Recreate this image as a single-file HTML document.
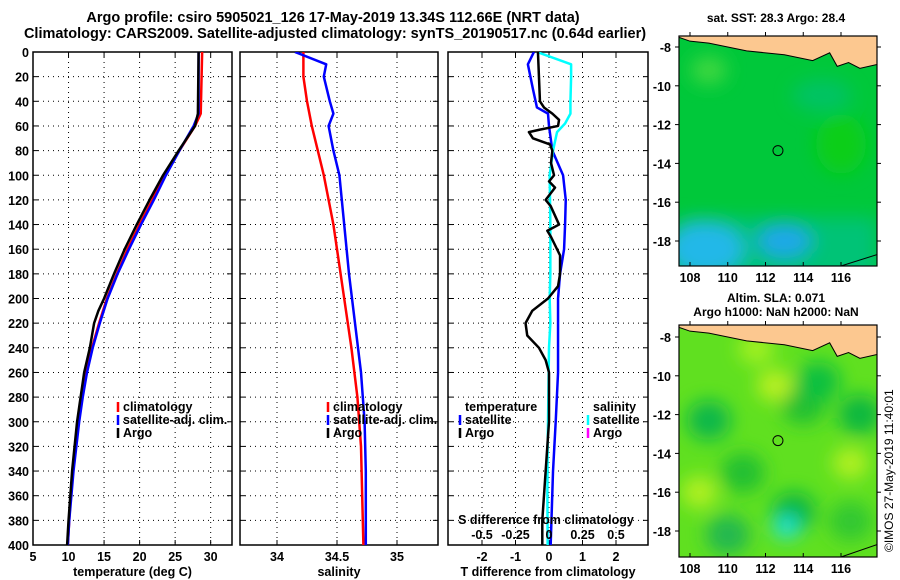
<!DOCTYPE html>
<html><head><meta charset="utf-8">
<style>
body{margin:0;background:#fff;}
svg{display:block;font-family:"Liberation Sans",sans-serif;font-weight:bold;}
</style></head>
<body>
<svg id="c" width="900" height="580" viewBox="0 0 900 580" xmlns="http://www.w3.org/2000/svg">
<defs>
<clipPath id="cp1"><rect x="33" y="52" width="199" height="493"/></clipPath>
<clipPath id="cp2"><rect x="240" y="52" width="198" height="493"/></clipPath>
<clipPath id="cp3"><rect x="448" y="52" width="200" height="493"/></clipPath>
<clipPath id="cm1"><rect x="679" y="36" width="198" height="230"/></clipPath>
<clipPath id="cm2"><rect x="679" y="325" width="198" height="232"/></clipPath>
<filter id="bl"><feGaussianBlur stdDeviation="9"/></filter>
</defs>
<text x="333" y="22" text-anchor="middle" font-size="14.5">Argo profile: csiro 5905021_126 17-May-2019 13.34S 112.66E (NRT data)</text>
<text x="335" y="38" text-anchor="middle" font-size="14.5">Climatology: CARS2009. Satellite-adjusted climatology: synTS_20190517.nc (0.64d earlier)</text>
<text x="776" y="22" text-anchor="middle" font-size="12">sat. SST: 28.3 Argo: 28.4</text>
<text x="776" y="302" text-anchor="middle" font-size="12">Altim. SLA: 0.071</text>
<text x="776" y="316" text-anchor="middle" font-size="12">Argo h1000: NaN h2000: NaN</text>
<text transform="translate(893,552) rotate(-90)" font-size="12" font-weight="normal">©IMOS 27-May-2019 11:40:01</text>
<g id="g"></g>
</svg>
<script>
// ---- data ----
const tDepth = [0,50,60,80,100,120,140,160,180,200,220,240,260,280,300,320,340,360,380,400];
const tClim  = [28.8,28.6,27.8,25.6,23.5,21.8,20,18.3,16.8,15.4,14.3,13.3,12.5,11.9,11.4,11,10.6,10.3,10.1,9.9];
const tSat   = [28.3,28.3,27.6,25.6,23.7,22,20.2,18.5,16.9,15.5,14.4,13.4,12.6,12,11.5,11.1,10.7,10.4,10.1,9.9];
const argoDepth = [0,50,60,80,100,120,140,160,180,200,210,220,240,260,280,300,340,380,400];
const tArgo  = [28.3,28.2,27.8,25.5,23.3,21.4,19.6,17.9,16.4,15.0,14.2,13.6,13.0,12.2,11.7,11.2,10.5,10.0,9.8];

const sDepth = [0,10,20,40,60,80,100,140,180,200,240,280,320,360,400];
const sClim  = [34.22,34.22,34.22,34.25,34.29,34.34,34.39,34.47,34.53,34.56,34.62,34.67,34.7,34.71,34.72];
const sSatDepth = [0,10,20,40,50,60,80,100,140,180,220,260,300,340,400];
const sSat   = [34.15,34.41,34.39,34.44,34.47,34.43,34.47,34.52,34.56,34.6,34.65,34.7,34.73,34.74,34.74];

const dTDepth = [0,10,30,45,50,60,80,100,120,140,160,180,200,240,260,300,340,400];
const dTSat   = [-0.45,-0.63,-0.48,-0.36,-0.03,0,0.1,0.42,0.5,0.48,0.45,0.33,0.27,0.27,0.27,0.2,0.12,0.05];
const dSDepth = [0,10,20,40,50,58,65,80,100,140,180,200,220,240,280,320,360,400];
const dSSat   = [-0.09,0.165,0.165,0.16,0.16,0.12,0.06,0.03,0.005,0.01,0.01,0.005,0.01,0.0,-0.005,-0.01,-0.012,-0.01];
const dArgoDepth = [0,20,40,45,50,55,60,63,65,70,75,80,90,100,105,110,120,125,140,145,150,165,180,190,200,210,220,230,240,250,260,300,320,340,360,380,400];
const dTArgo  = [-0.33,-0.3,-0.27,-0.15,0.1,0.3,0.27,-0.27,-0.6,-0.48,0.03,0.1,0.06,0.15,0,0.18,-0.1,0.05,0.3,-0.05,0.06,0.33,0.33,0.27,-0.03,-0.5,-0.7,-0.65,-0.3,-0.1,0,0,-0.05,-0.1,-0.15,-0.2,-0.2];

const depthTicks = [0,20,40,60,80,100,120,140,160,180,200,220,240,260,280,300,320,340,360,380,400];
const tTicks = [5,10,15,20,25,30];
const sTicks = [34,34.5,35];
const dTicks = [-2,-1,0,1,2];
const dSTicks = [-0.5,-0.25,0,0.25,0.5];
const lonTicks = [108,110,112,114,116];
const latTicks = [-8,-10,-12,-14,-16,-18];
const argoLon = 112.66, argoLat = -13.34;

// ---- helpers ----
const NS="http://www.w3.org/2000/svg";
const G=document.getElementById('g');
const FS=12.5;
function mk(tag,at,par){const e=document.createElementNS(NS,tag);for(const k in at)e.setAttribute(k,at[k]);(par||G).appendChild(e);return e;}
const Y0=52,Y1=545;
const yD=d=>Y0+(d/400)*(Y1-Y0);
const x1=v=>33+(v-5)/(33-5)*199;
const x2=v=>277+(v-34)*120;
const x3=v=>549+v*33.5;
const x3s=v=>x3(v*4);

function panel(name,L,R,xf,ticks,fmt,xlabel,cp,showY){
  const fr=mk('rect',{x:L,y:Y0,width:R-L,height:Y1-Y0,fill:'#fff',stroke:'#000','stroke-width':1.5});
  
  
  depthTicks.forEach(d=>{
    const y=yD(d);
    if(d>0&&d<400){const l=mk('line',{x1:L,x2:R,y1:y,y2:y,stroke:'#000','stroke-dasharray':'1,4'});
    }
    mk('line',{x1:L,x2:L+5,y1:y,y2:y,stroke:'#000'});mk('line',{x1:R-5,x2:R,y1:y,y2:y,stroke:'#000'});
    if(showY){const t=mk('text',{x:L-4,y:y+5,'text-anchor':'end','font-size':FS});t.textContent=d;
    }
  });
  ticks.forEach(v=>{
    const x=xf(v);
    const l=mk('line',{x1:x,x2:x,y1:Y0,y2:Y1,stroke:'#000','stroke-dasharray':'1,4'});
    
    mk('line',{x1:x,x2:x,y1:Y1-5,y2:Y1,stroke:'#000'});mk('line',{x1:x,x2:x,y1:Y0,y2:Y0+5,stroke:'#000'});
    const t=mk('text',{x:x,y:561,'text-anchor':'middle','font-size':FS});t.textContent=fmt(v);
    
  });
  const xl=mk('text',{x:(L+R)/2,y:576,'text-anchor':'middle','font-size':FS});xl.textContent=xlabel;
  
}
function line(name,xs,ds,xf,col,cp,w){
  const p=mk('polyline',{points:xs.map((v,i)=>xf(v)+','+yD(ds[i])).join(' '),fill:'none',stroke:col,'stroke-width':w||2.5,'clip-path':'url(#'+cp+')','stroke-linejoin':'round'});
  
  
}
function legend(items,x,y,nm){
  items.forEach((it,i)=>{
    const yy=y+i*13;
    if(it[1]){mk('line',{x1:x,x2:x,y1:yy-9,y2:yy+1,stroke:it[1],'stroke-width':2.5});}
    const t=mk('text',{x:x+5,y:yy,'font-size':FS});t.textContent=it[0];
    
  });
}

// panel 1 temperature
panel('temperature-panel',33,232,x1,tTicks,v=>v,'temperature (deg C)','cp1',true);
line('temp-climatology-line',tClim,tDepth,x1,'#f00','cp1');
line('temp-satellite-line',tSat,tDepth,x1,'#00f','cp1');
line('temp-argo-line',tArgo,argoDepth,x1,'#000','cp1');
legend([['climatology','#f00'],['satellite-adj. clim.','#00f'],['Argo','#000']],118,411,'temp');

// panel 2 salinity
panel('salinity-panel',240,438,x2,sTicks,v=>v,'salinity','cp2',false);
line('sal-climatology-line',sClim,sDepth,x2,'#f00','cp2');
line('sal-satellite-line',sSat,sSatDepth,x2,'#00f','cp2');
legend([['climatology','#f00'],['satellite-adj. clim.','#00f'],['Argo','#000']],328,411,'sal');

// panel 3 differences
panel('difference-panel',448,648,x3,dTicks,v=>v,'T difference from climatology','cp3',false);
line('dT-satellite-line',dTSat,dTDepth,x3,'#00f','cp3');
line('dS-satellite-line',dSSat,dSDepth,x3s,'#0ff','cp3');
line('dT-argo-line',dTArgo,dArgoDepth,x3,'#000','cp3');
legend([['temperature',null],['satellite','#00f'],['Argo','#000']],460,411,'diff-t');
legend([['salinity',null],['satellite','#0ff'],['Argo','#f0f']],588,411,'diff-s');
{const t=mk('text',{x:546,y:524,'text-anchor':'middle','font-size':FS});t.textContent='S difference from climatology';
}
dSTicks.forEach(v=>{const t=mk('text',{x:x3s(v),y:539,'text-anchor':'middle','font-size':FS});t.textContent=v;
});

// maps
function map(name,top,bot,latY8,latY18,cp,kind){
  const L=679,R=877;
  const lx=v=>690+(v-108)*(841-690)/8;
  const ly=v=>latY8+(-8-v)*(latY18-latY8)/10;
  const g=mk('g',{'clip-path':'url(#'+cp+')'});
  
  if(kind==='sst'){
    mk('rect',{x:L,y:top,width:R-L,height:bot-top,fill:'#00c83a'},g);
    const b=mk('g',{filter:'url(#bl)'},g);
    mk('rect',{x:L,y:ly(-16.8),width:R-L,height:bot,fill:'#00c090',opacity:0.7},b);
    mk('ellipse',{cx:lx(108.8),cy:ly(-18.4),rx:40,ry:28,fill:'#22b8e8'},b);
    mk('ellipse',{cx:lx(113),cy:ly(-18),rx:28,ry:18,fill:'#1aa8e8'},b);
    mk('ellipse',{cx:lx(109),cy:ly(-9.2),rx:18,ry:14,fill:'#40d840'},b);
    mk('ellipse',{cx:lx(115),cy:ly(-10.5),rx:30,ry:16,fill:'#00c080',opacity:0.6},b);
    mk('ellipse',{cx:lx(116),cy:ly(-13),rx:25,ry:30,fill:'#10d010',opacity:0.8},b);
    mk('polygon',{points:`${lx(112.8)},${top} ${R},${top} ${R},${ly(-8.8)} ${lx(115)},${ly(-8.2)} ${lx(112.8)},${ly(-7.7)}`,fill:'#c8f020'},g);
  } else {
    mk('rect',{x:L,y:top,width:R-L,height:bot-top,fill:'#60e020'},g);
    const b=mk('g',{filter:'url(#bl)'},g);
    [[109,-12.3,'#10b848'],[110.8,-15,'#20c030'],[114,-11.5,'#20c030'],[114.8,-10.3,'#10c040'],[117,-12,'#10b840'],[110,-18.2,'#20b850'],[113.5,-17,'#10b840'],[116.5,-17.5,'#30c830']].forEach(c=>mk('ellipse',{cx:lx(c[0]),cy:ly(c[1]),rx:22,ry:20,fill:c[2]},b));
    [[112.5,-10.5,'#b8f020'],[108.5,-16,'#b0f020'],[116.5,-14.5,'#b0f020'],[111.5,-8.6,'#a0f020']].forEach(c=>mk('ellipse',{cx:lx(c[0]),cy:ly(c[1]),rx:18,ry:16,fill:c[2]},b));
    mk('ellipse',{cx:lx(113.1),cy:ly(-17.8),rx:14,ry:12,fill:'#20e0d0'},b);
  }
  const land=mk('polygon',{points:`${L},${top} ${R},${top} ${R},${ly(-8.9)} ${lx(117)},${ly(-9.1)} ${lx(116.4)},${ly(-8.8)} ${lx(115.8)},${ly(-9)} ${lx(115.4)},${ly(-8.3)} ${lx(114.5)},${ly(-8.7)} ${lx(113)},${ly(-8.4)} ${lx(111)},${ly(-8.2)} ${lx(109)},${ly(-7.8)} ${lx(108)},${ly(-7.7)} ${L},${ly(-7.5)}`,fill:'#fcc890',stroke:'#000','stroke-width':1},g);
  
  mk('line',{x1:lx(116),y1:bot,x2:R,y2:ly(-18.7),stroke:'#000'},g);
  const c=mk('circle',{cx:lx(argoLon),cy:ly(argoLat),r:5,fill:'none',stroke:'#000','stroke-width':1});
  
  mk('rect',{x:L,y:top,width:R-L,height:bot-top,fill:'none',stroke:'#000','stroke-width':1.2});
  lonTicks.forEach(v=>{const x=lx(v);mk('line',{x1:x,x2:x,y1:bot-4,y2:bot,stroke:'#000'});mk('line',{x1:x,x2:x,y1:top,y2:top-4,stroke:'#000'});
    const t=mk('text',{x:x,y:bot+16,'text-anchor':'middle','font-size':FS});t.textContent=v;
    });
  latTicks.forEach(v=>{const y=ly(v);mk('line',{x1:L-4,x2:L,y1:y,y2:y,stroke:'#000'});mk('line',{x1:R,x2:R+4,y1:y,y2:y,stroke:'#000'});
    const t=mk('text',{x:L-8,y:y+5,'text-anchor':'end','font-size':FS});t.textContent=v;
    });
}
map('sst-map',36,266,47,241,'cm1','sst');
map('sla-map',325,557,337,531,'cm2','sla');
</script>
</body></html>
